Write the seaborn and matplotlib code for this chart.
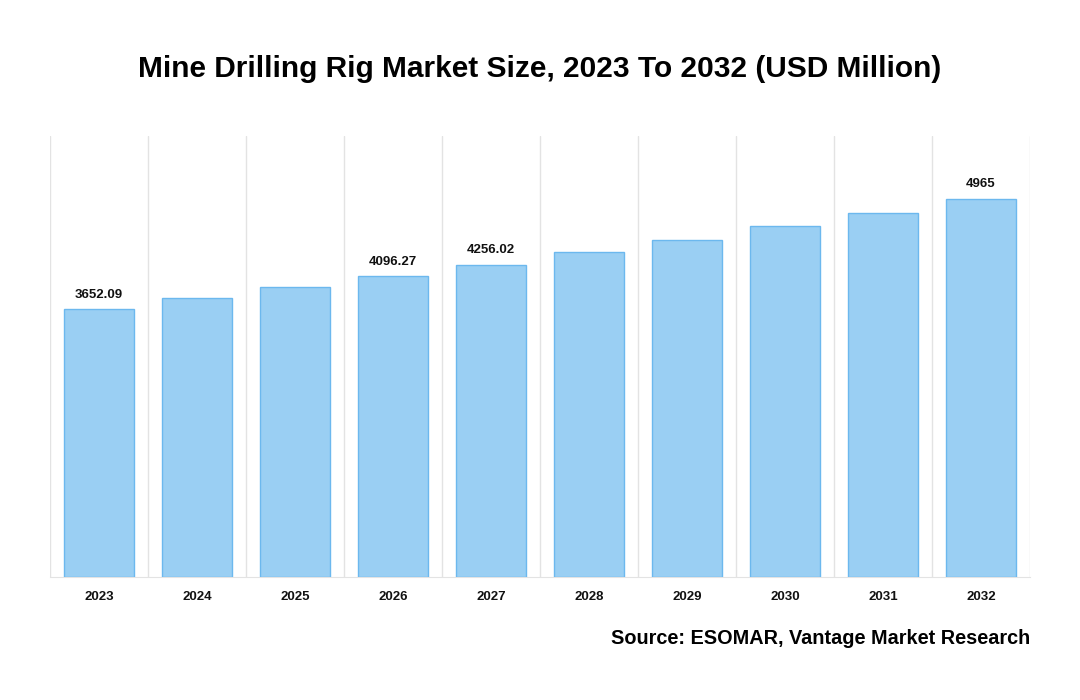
import numpy as np
import pandas as pd
import matplotlib
matplotlib.use("Agg")
import matplotlib.pyplot as plt
import seaborn as sns

# Dados
anos = ['2023', '2024', '2025', '2026', '2027', '2028', '2029', '2030', '2031', '2032']
valores = [3652.09, 3796, 3949, 4096.27, 4256.02, 4426, 4599, 4780, 4966, 5157]
rotulos = ['3652.09', '', '', '4096.27', '4256.02', '', '', '', '', '4965']

titulo = 'Mine Drilling Rig Market Size, 2023 To 2032 (USD Million)'
fonte = 'Source: ESOMAR, Vantage Market Research'

sns.set_style('white')
plt.rcParams['font.family'] = ['Liberation Sans', 'DejaVu Sans']

df = pd.DataFrame({'Ano': anos, 'Valor': valores})

fig = plt.figure(figsize=(10.8, 7), dpi=100)
ax = fig.add_axes([50 / 1080, 1 - 577 / 700, 980 / 1080, 441 / 700])

sns.barplot(data=df, x='Ano', y='Valor', color='#9acff3', saturation=1,
            width=0.714, edgecolor='#6cb8ee', linewidth=1, ax=ax, zorder=3)

ax.set_ylim(0, 6010)
ax.set_xlim(-0.5, len(anos) - 0.5)

# Linhas verticais entre categorias
limites = np.arange(len(anos) + 1) - 0.5
ax.set_xticks(limites, minor=True)
ax.grid(True, which='minor', axis='x', color='#e3e3e3', linewidth=1, zorder=0)
ax.tick_params(axis='x', which='minor', length=8, color='#e3e3e3', width=1)
ax.tick_params(axis='x', which='major', length=0, pad=10)
ax.set_yticks([])

for s in ['top', 'right', 'left']:
    ax.spines[s].set_visible(False)
ax.spines['bottom'].set_color('#e3e3e3')

for lbl in ax.get_xticklabels():
    lbl.set_fontweight('bold')
    lbl.set_fontsize(9.5)
    lbl.set_color('#111111')

ax.set_xlabel('')
ax.set_ylabel('')

# Rótulos de valores
for i, (v, r) in enumerate(zip(valores, rotulos)):
    if r:
        ax.annotate(r, (i, v), xytext=(0, 6), textcoords='offset points',
                    ha='center', va='bottom', fontsize=9.5, fontweight='bold',
                    color='#111111')

fig.text(540 / 1080, 1 - 69 / 700, titulo, ha='center', va='center',
         fontsize=21.5, fontweight='bold', color='#000000')
fig.text(1030 / 1080, 1 - 638 / 700, fonte, ha='right', va='center',
         fontsize=14.3, fontweight='bold', color='#000000')

fig.savefig('out.png', dpi=100)
plt.close(fig)
